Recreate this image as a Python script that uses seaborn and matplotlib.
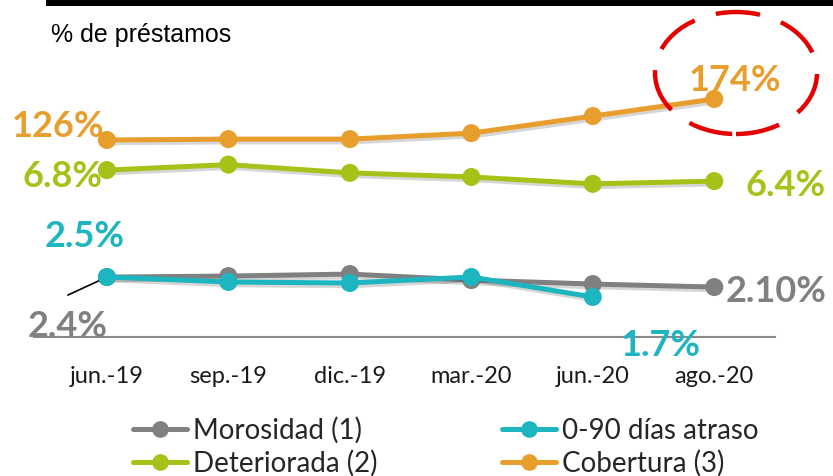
import matplotlib
matplotlib.use("Agg")
import matplotlib.pyplot as plt
import matplotlib.patheffects as pe
from matplotlib.lines import Line2D
from matplotlib.patches import Ellipse, Rectangle
import seaborn as sns

# ---- data -------------------------------------------------------------
periods = ["jun.-19", "sep.-19", "dic.-19", "mar.-20", "jun.-20", "ago.-20"]
morosidad = [2.40, 2.43, 2.49, 2.31, 2.19, 2.10]
atraso_0_90 = [2.5, 2.3, 2.26, 2.5, 1.7]
deteriorada = [6.8, 7.0, 6.7, 6.55, 6.3, 6.4]
cobertura = [126, 127, 127, 134, 154, 174]

series_names = ["Morosidad (1)", "0-90 días atraso", "Deteriorada (2)", "Cobertura (3)"]

# ---- style ------------------------------------------------------------
sns.set_style("white")
plt.rcParams["font.family"] = ["Lato", "DejaVu Sans"]

GRAY = "#808080"
TEAL = "#1db5bf"
GREEN = "#a6c117"
ORANGE = "#e89e2c"

W, H = 833, 476
fig = plt.figure(figsize=(W / 100, H / 100), dpi=100)

# base axis: category axis with a single baseline
left_px, right_px, bottom_px, top_px = 34, 775, 337, 20
ax = fig.add_axes([left_px / W, 1 - bottom_px / H,
                   (right_px - left_px) / W, (bottom_px - top_px) / H])
ax.set_xlim(-0.6, 5.5)
ax.set_yticks([])
for side in ("top", "left", "right"):
    ax.spines[side].set_visible(False)
ax.spines["bottom"].set_color("#8a8a8a")
ax.spines["bottom"].set_linewidth(1.5)
ax.set_xticks(range(len(periods)))
ax.set_xticklabels(periods, fontsize=17, color="#1a1a1a")
ax.tick_params(axis="x", length=0, pad=21)

shadow = [pe.SimpleLineShadow(offset=(1.5, -2), shadow_color="black", alpha=0.16),
          pe.Normal()]

# each series sits on its own independent value scale
series = [
    (morosidad, GRAY, (0.6, 10.12),
     [(0, "2.4%", -39, -49), (5, "2.10%", 62, -4)]),
    (atraso_0_90, TEAL, (0.1, 12.78),
     [(0, "2.5%", -22, 41), (4, "1.7%", 68, -48)]),
    (deteriorada, GREEN, (0.73, 12.26),
     [(0, "6.8%", -44, -6), (5, "6.4%", 71, -4)]),
    (cobertura, ORANGE, (-104.7, 266.5),
     [(0, "126%", -49, 13), (5, "174%", 21, 18)]),
]

series_axes = []
for values, color, ylim, labels in series:
    a = ax.twinx()
    sns.lineplot(x=list(range(len(values))), y=values, ax=a, color=color,
                 marker="o", markersize=13, markeredgewidth=0, linewidth=3.6,
                 path_effects=shadow)
    a.set_ylim(*ylim)
    a.set_axis_off()
    for i, txt, dx, dy in labels:
        a.annotate(txt, xy=(i, values[i]), xytext=(dx, dy),
                   textcoords="offset pixels", ha="center", va="center",
                   fontsize=26, fontweight="bold", color=color)
    series_axes.append(a)

ax.set_xlim(-0.6, 5.5)

# leader line from the 2.4% label to its point
series_axes[0].annotate("", xy=(0, morosidad[0]), xytext=(-39, -18),
                        textcoords="offset pixels",
                        arrowprops=dict(arrowstyle="-", color="black", lw=1.2,
                                        shrinkA=0, shrinkB=0))

# highlight ring around the latest coverage value
fig.patches.append(Ellipse((736 / W, 1 - 73 / H), 162 / W, 122 / H,
                           transform=fig.transFigure, fill=False,
                           edgecolor="#e50000", lw=3.2,
                           linestyle=(0, (10, 5))))

# header bar and subtitle
fig.patches.append(Rectangle((46 / W, 1 - 6 / H), 1, 6 / H,
                             transform=fig.transFigure, facecolor="black",
                             edgecolor="none"))
fig.text(51 / W, 1 - 42 / H, "% de préstamos", fontsize=18,
         family=["Liberation Sans", "DejaVu Sans"], color="black",
         ha="left", va="baseline")

# legend
handles = [Line2D([], [], color=c, lw=3.6, marker="o", markersize=12,
                  markeredgewidth=0)
           for c in (GRAY, GREEN, TEAL, ORANGE)]
labels = [series_names[0], series_names[2], series_names[1], series_names[3]]
fig.legend(handles, labels, ncol=2, loc="upper left",
           bbox_to_anchor=(133 / W, 1 - 417 / H), frameon=False,
           fontsize=20, handlelength=1.95, handletextpad=0.2,
           columnspacing=4.5, labelspacing=0.22, borderpad=0,
           borderaxespad=0)

fig.savefig("out.png", dpi=100)
